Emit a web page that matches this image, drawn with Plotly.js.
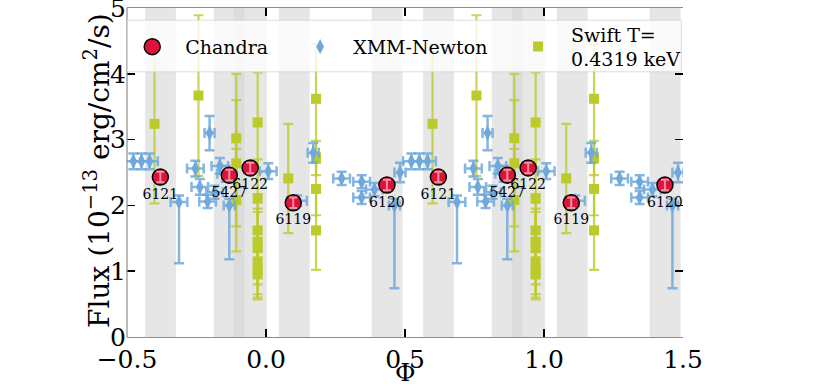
<!DOCTYPE html>
<html>
<head>
<meta charset="utf-8">
<script src="https://cdn.plot.ly/plotly-3.0.1.min.js"></script>
<style>
  html, body { margin: 0; padding: 0; background: #fff; }
  #chart { width: 830px; height: 390px; }
</style>
</head>
<body>
<div id="chart"></div>
<script>
// orbital phase folded light curve (phase in [0,1))

// Chandra
const CH_OBSID = ['6121', '5427', '6122', '6119', '6120'];
const CH_PHASE = [0.620, 0.868, 0.943, 0.098, 0.435];
const CH_FLUX = [2.43, 2.46, 2.57, 2.04, 2.31];
const CH_ERR = [0.08, 0.08, 0.08, 0.08, 0.08];
// Chandra observation windows (grey bands)
const CH_WIN_START = [0.565, 0.812, 0.884, 0.046, 0.380];
const CH_WIN_END = [0.676, 0.923, 1.003, 0.157, 0.491];

// XMM-Newton
const XMM_PHASE = [0.008, 0.112, 0.170, 0.272, 0.344, 0.344, 0.390, 0.462, 0.482,
    0.523, 0.552, 0.581, 0.687, 0.746, 0.762, 0.790, 0.797, 0.815, 0.834, 0.855, 0.868];
const XMM_FLUX = [2.52, 2.07, 2.80, 2.41, 2.36, 2.12, 2.24, 2.00, 2.50,
    2.67, 2.67, 2.67, 2.05, 2.56, 2.28, 2.06, 3.10, 2.20, 2.60, 2.48, 2.00];
const XMM_EX = [0.03, 0.035, 0.02, 0.03, 0.03, 0.03, 0.03, 0.02, 0.02,
    0.03, 0.03, 0.03, 0.03, 0.03, 0.03, 0.03, 0.018, 0.03, 0.03, 0.03, 0.02];
const XMM_EY_UP = [0.12, 0.08, 0.15, 0.10, 0.10, 0.10, 0.10, 0.10, 0.15,
    0.12, 0.12, 0.12, 0.10, 0.12, 0.12, 0.10, 0.26, 0.10, 0.12, 0.12, 0.10];
const XMM_EY_DN = [0.12, 0.08, 0.15, 0.10, 0.10, 0.10, 0.10, 1.26, 0.15,
    0.12, 0.12, 0.12, 0.93, 0.12, 0.12, 0.10, 0.26, 0.10, 0.12, 0.12, 0.82];

// Swift
const SW_PHASE = [0.599, 0.757, 0.893, 0.893, 0.893, 0.970, 0.970, 0.970, 0.970,
    0.970, 0.970, 0.970, 0.970, 0.080, 0.180, 0.180, 0.180, 0.180];
const SW_FLUX = [3.24, 3.67, 3.02, 2.64, 2.08, 3.26, 2.10, 1.62, 1.45,
    1.35, 1.15, 1.02, 0.95, 2.41, 3.62, 2.72, 2.25, 1.62];
const SW_ERR = [1.21, 1.22, 0.98, 0.96, 0.78, 0.76, 0.60, 0.55, 0.50,
    0.55, 0.50, 0.45, 0.35, 0.83, 0.83, 0.26, 0.40, 0.60];

const X_RANGE = [-0.5, 1.5];
const Y_RANGE = [0, 5];

const FONT = 'DejaVu Serif, Liberation Serif, serif';
const C_CHANDRA = '#dc143c';
const C_XMM = '#70a8dc';
const C_SWIFT = '#bccb2c';

// repeat every phase one cycle either side, keep what falls in the x range
function fold(phase, ...cols) {
    const out = { x: [], cols: cols.map(() => []) };
    [-1, 0, 1].forEach(s => {
        phase.forEach((p, i) => {
            const x = p + s;
            if (x < X_RANGE[0] || x > X_RANGE[1]) return;
            out.x.push(x);
            cols.forEach((c, k) => out.cols[k].push(c[i]));
        });
    });
    return out;
}

const sw = fold(SW_PHASE, SW_FLUX, SW_ERR);
const xm = fold(XMM_PHASE, XMM_FLUX, XMM_EX, XMM_EY_UP, XMM_EY_DN);
const ch = fold(CH_PHASE, CH_FLUX, CH_ERR, CH_OBSID);

const traces = [
    {
        x: sw.x, y: sw.cols[0], type: 'scatter', mode: 'markers',
        name: 'Swift T=<br>0.4319 keV', legend: 'legend3',
        marker: { symbol: 'square', size: 10, color: C_SWIFT },
        error_y: { type: 'data', array: sw.cols[1], color: 'rgba(188,203,44,0.8)', thickness: 2.2, width: 5 },
    },
    {
        x: xm.x, y: xm.cols[0], type: 'scatter', mode: 'markers',
        name: 'XMM-Newton', legend: 'legend2',
        marker: { symbol: 'diamond-tall', size: 11, color: C_XMM },
        error_x: { type: 'data', array: xm.cols[1], color: 'rgba(112,168,220,0.85)', thickness: 2.5, width: 5 },
        error_y: { type: 'data', symmetric: false, array: xm.cols[2], arrayminus: xm.cols[3],
            color: 'rgba(112,168,220,0.85)', thickness: 2.5, width: 5 },
    },
    {
        x: ch.x, y: ch.cols[0], type: 'scatter', mode: 'markers+text',
        name: 'Chandra', legend: 'legend',
        text: ch.cols[2], textposition: 'bottom center',
        textfont: { family: FONT, size: 14, color: '#000' },
        marker: { symbol: 'circle', size: 16, color: C_CHANDRA, line: { color: '#000', width: 1.5 } },
    },
    {
        // error bars on top of the Chandra markers
        x: ch.x, y: ch.cols[0], type: 'scatter', mode: 'markers',
        showlegend: false, hoverinfo: 'skip',
        marker: { size: 16, opacity: 0 },
        error_y: { type: 'data', array: ch.cols[1], color: '#f3909f', thickness: 2, width: 4 },
    },
];

// grey bands for the Chandra windows
const shapes = [];
[-1, 0, 1].forEach(s => {
    CH_WIN_START.forEach((x0, i) => {
        const a = x0 + s, b = CH_WIN_END[i] + s;
        if (b <= X_RANGE[0] || a >= X_RANGE[1]) return;
        shapes.push({
            type: 'rect', xref: 'x', yref: 'paper', x0: a, x1: b, y0: 0, y1: 1,
            fillcolor: 'rgba(213,213,213,0.6)', line: { width: 0 }, layer: 'below',
        });
    });
});
// left spine
shapes.push({ type: 'line', xref: 'paper', yref: 'paper', x0: 0, x1: 0, y0: 0, y1: 1,
    line: { color: '#8c8c8c', width: 1.2 }, layer: 'above' });
// legend frame
shapes.push({ type: 'rect', xref: 'paper', yref: 'paper', x0: 0.001, x1: 0.997, y0: 0.806, y1: 0.963,
    fillcolor: 'rgba(255,255,255,0.8)', line: { color: 'rgba(210,210,210,0.8)', width: 1 }, layer: 'above' });

const legendBase = {
    bgcolor: 'rgba(0,0,0,0)', borderwidth: 0, itemwidth: 56,
    font: { family: FONT, size: 19, color: '#000' },
    yanchor: 'middle', y: 0.882, xanchor: 'left',
};

// axis titles placed as annotations so they sit where the reference has them
const annotations = [
    {
        text: 'Φ', xref: 'paper', yref: 'paper', x: 0.5, y: -0.108,
        xanchor: 'center', yanchor: 'middle', showarrow: false,
        font: { family: FONT, size: 25, color: '#000' },
    },
    {
        text: 'Flux (10<sup>−13</sup> erg/cm<sup>2</sup>/s)', textangle: -90,
        xref: 'paper', yref: 'paper', x: -0.052, y: 0.505,
        xanchor: 'center', yanchor: 'middle', showarrow: false,
        font: { family: FONT, size: 28, color: '#000' },
    },
];

const layout = {
    width: 830, height: 390,
    paper_bgcolor: '#fff', plot_bgcolor: '#fff',
    margin: { l: 127, r: 147, t: 8, b: 53 },
    font: { family: FONT, color: '#000' },
    showlegend: true,
    legend: { ...legendBase, x: -0.014 },
    legend2: { ...legendBase, x: 0.288 },
    legend3: { ...legendBase, x: 0.68 },
    xaxis: {
        range: X_RANGE, dtick: 0.5, tickformat: '.1f',
        showgrid: false, zeroline: false,
        showline: true, linecolor: '#8c8c8c', linewidth: 1.2, mirror: 'ticks',
        ticks: 'inside', ticklen: 8, tickwidth: 1.5, tickcolor: '#000',
        ticklabeloverflow: 'allow',
        tickfont: { family: FONT, size: 25, color: '#000' },
    },
    yaxis: {
        range: Y_RANGE, dtick: 1,
        showgrid: false, zeroline: false,
        showline: false, mirror: 'ticks',
        ticks: 'inside', ticklen: 8, tickwidth: 1.5, tickcolor: '#000',
        ticklabeloverflow: 'allow',
        tickfont: { family: FONT, size: 25, color: '#000' },
    },
    shapes: shapes,
    annotations: annotations,
};

Plotly.newPlot('chart', traces, layout, { displayModeBar: false, staticPlot: true });
</script>
</body>
</html>
